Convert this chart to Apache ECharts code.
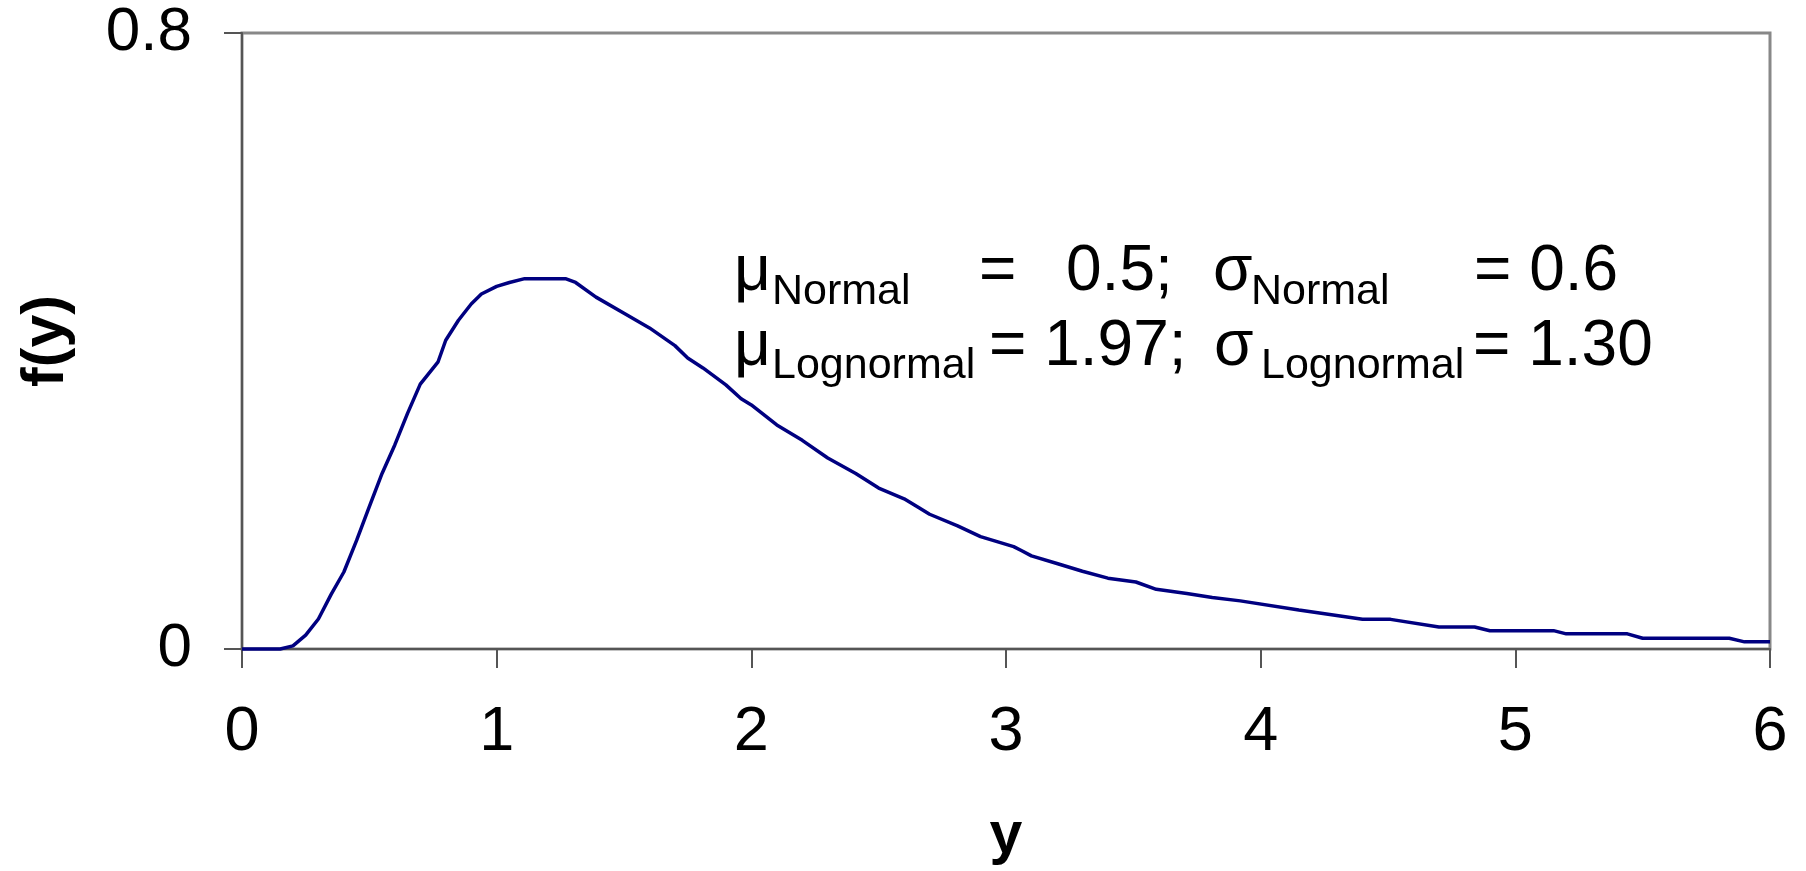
<!DOCTYPE html>
<html>
<head>
<meta charset="utf-8">
<title>f(y)</title>
<script src="https://cdn.jsdelivr.net/npm/echarts@6/dist/echarts.min.js"></script>
<style>
  html, body { margin: 0; padding: 0; background: #ffffff; }
  #chart { width: 1806px; height: 871px; }
</style>
</head>
<body>
<div id="chart"></div>
<script>
// Lognormal density curve, sampled points (y, f(y))
const yValues = [0, 0.15, 0.20, 0.25, 0.30, 0.35, 0.40, 0.45, 0.50, 0.55,
  0.60, 0.65, 0.70, 0.77, 0.80, 0.85, 0.90, 0.94, 1.00, 1.05,
  1.11, 1.27, 1.31, 1.39, 1.50, 1.60, 1.70, 1.75, 1.81, 1.90,
  1.96, 2.00, 2.10, 2.20, 2.30, 2.41, 2.50, 2.60, 2.66, 2.70,
  2.81, 2.90, 3.03, 3.06, 3.10, 3.20, 3.30, 3.40, 3.51, 3.59,
  3.71, 3.81, 3.92, 4.15, 4.40, 4.51, 4.70, 4.84, 4.90, 5.15,
  5.20, 5.44, 5.50, 5.84, 5.90, 6.00];
const densityValues = [0, 0, 0.004, 0.018, 0.039, 0.071, 0.100, 0.141, 0.185, 0.228,
  0.265, 0.306, 0.344, 0.373, 0.401, 0.427, 0.448, 0.461, 0.471, 0.476,
  0.481, 0.481, 0.476, 0.457, 0.436, 0.417, 0.394, 0.378, 0.365, 0.343,
  0.325, 0.317, 0.291, 0.271, 0.248, 0.228, 0.209, 0.195, 0.183, 0.175,
  0.160, 0.146, 0.133, 0.128, 0.121, 0.111, 0.101, 0.092, 0.087, 0.0775,
  0.072, 0.067, 0.0625, 0.0506, 0.0385, 0.0385, 0.0285, 0.0285, 0.0238, 0.0238,
  0.0197, 0.0197, 0.0139, 0.0139, 0.0093, 0.0093];

// Axis ranges and tick steps
const xAxisRange = [0, 6];
const xTickStep = 1;
const yAxisRange = [0, 0.8];
const yTickStep = 0.8;

// Parameter annotation pieces: [text, isSubscript]
const line1Parts = [['\u03BC', false], ['Normal', true], ['=', false], ['0.5;', false],
  ['\u03C3', false], ['Normal', true], ['= 0.6', false]];
const line2Parts = [['\u03BC', false], ['Lognormal', true], ['= 1.97;', false],
  ['\u03C3', false], ['Lognormal', true], ['= 1.30', false]];

const FONT = "'Liberation Sans', Arial, sans-serif";
const chart = echarts.init(document.getElementById('chart'), null, { renderer: 'canvas' });

const seriesData = yValues.map((v, i) => [v, densityValues[i]]);

// Horizontal placement of each annotation piece
const line1X = [734, 772, 979, 1066, 1213, 1251, 1474];
const line2X = [734, 772, 989, 1214, 1261, 1473];

function buildLine(parts, xs, mainY, subY) {
  return parts.map((p, i) => ({
    type: 'text',
    x: xs[i],
    y: p[1] ? subY : mainY,
    silent: true,
    style: {
      text: p[0],
      font: (p[1] ? '43px ' : '64px ') + FONT,
      fill: '#000000',
      align: 'left',
      verticalAlign: 'middle'
    }
  }));
}

const option = {
  animation: false,
  backgroundColor: '#ffffff',
  grid: {
    left: 242, right: 36, top: 33, bottom: 222,
    show: true,
    borderColor: '#888888',
    borderWidth: 3,
    backgroundColor: 'transparent'
  },
  xAxis: {
    type: 'value',
    min: xAxisRange[0], max: xAxisRange[1], interval: xTickStep,
    name: 'y',
    nameLocation: 'middle',
    nameGap: 158,
    nameTextStyle: { fontFamily: FONT, fontSize: 59, fontWeight: 'bold', color: '#000' },
    axisLine: { show: true, onZero: false, lineStyle: { color: '#555555', width: 2 } },
    axisTick: { show: true, inside: false, length: 19, lineStyle: { color: '#555555', width: 2 } },
    axisLabel: { fontFamily: FONT, fontSize: 63, color: '#000', margin: 52 },
    splitLine: { show: false }
  },
  yAxis: {
    type: 'value',
    min: yAxisRange[0], max: yAxisRange[1], interval: yTickStep,
    name: 'f(y)',
    nameLocation: 'middle',
    nameGap: 166,
    nameTextStyle: { fontFamily: FONT, fontSize: 59, fontWeight: 'bold', color: '#000' },
    axisLine: { show: true, lineStyle: { color: '#555555', width: 2 } },
    axisTick: { show: true, inside: false, length: 18, lineStyle: { color: '#555555', width: 2 } },
    axisLabel: { fontFamily: FONT, fontSize: 62, color: '#000', margin: 50 },
    splitLine: { show: false }
  },
  series: [{
    type: 'line',
    data: seriesData,
    showSymbol: false,
    smooth: false,
    clip: false,
    lineStyle: { color: '#000080', width: 3.5 },
    z: 3
  }],
  graphic: [
    ...buildLine(line1Parts, line1X, 272, 292),
    ...buildLine(line2Parts, line2X, 347, 366)
  ]
};

chart.setOption(option);
</script>
</body>
</html>
